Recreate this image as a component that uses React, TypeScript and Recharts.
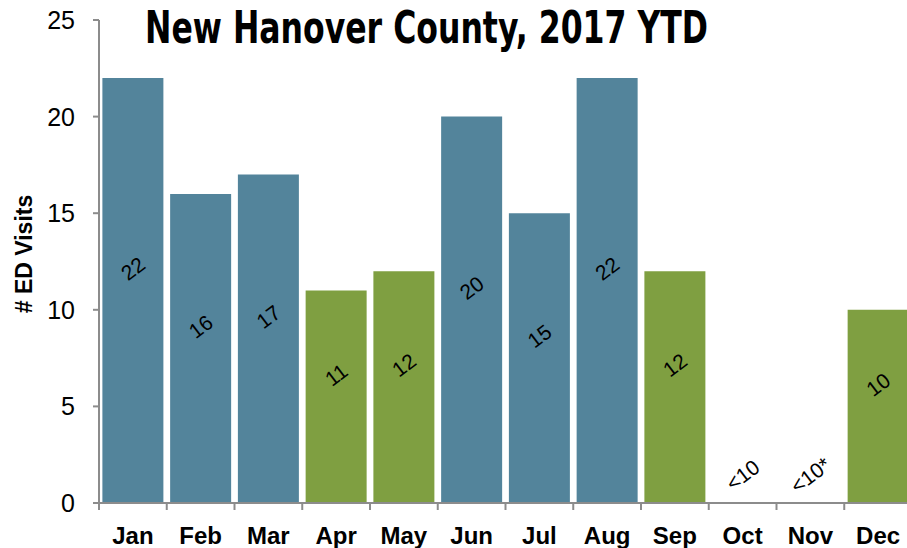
import React from 'react';
import { BarChart, Bar, XAxis, YAxis, Cell, LabelList } from 'recharts';

const months = ['Jan', 'Feb', 'Mar', 'Apr', 'May', 'Jun', 'Jul', 'Aug', 'Sep', 'Oct', 'Nov', 'Dec'];
const visits = [22, 16, 17, 11, 12, 20, 15, 22, 12, 0, 0, 10];
const valueLabels = ['22', '16', '17', '11', '12', '20', '15', '22', '12', '<10', '<10*', '10'];
const groups = ['blue', 'blue', 'blue', 'green', 'green', 'blue', 'blue', 'blue', 'green', 'green', 'green', 'green'];
const yTicks = [0, 5, 10, 15, 20, 25];

const BLUE = '#53849B';
const GREEN = '#7F9F41';
const AXIS = '#8c8c8c';
const FONT = "'Liberation Sans', Arial, sans-serif";

const data = months.map((m, i) => ({ month: m, visits: visits[i], label: valueLabels[i], group: groups[i] }));

const CHART_W = 915;
const CHART_H = 548;
const Y_AXIS_W = 99;
const RIGHT = 3;
const bandWidth = (CHART_W - Y_AXIS_W - RIGHT) / months.length;

const MonthTick = (props: any) => {
  const { x, y, payload } = props;
  const left = x - bandWidth / 2;
  return (
    <g>
      <line x1={left} y1={y - 8} x2={left} y2={y - 1} stroke={AXIS} strokeWidth={2} />
      <text x={x} y={y + 33} textAnchor="middle" fontFamily={FONT} fontWeight="bold" fontSize={24} fill="#000">
        {payload.value}
      </text>
    </g>
  );
};

const ValueTick = (props: any) => {
  const { y, payload } = props;
  return (
    <text x={75} y={y} textAnchor="end" dominantBaseline="central" fontFamily={FONT} fontSize={25} fill="#000">
      {payload.value}
    </text>
  );
};

const RotatedLabel = (props: any) => {
  const { x, y, width, height, value } = props;
  const cx = x + width / 2;
  const cy = height > 2 ? y + height / 2 - 22 : y + height - 28;
  return (
    <text
      x={cx}
      y={cy}
      transform={`rotate(-37 ${cx} ${cy})`}
      textAnchor="middle"
      dominantBaseline="central"
      fontFamily={FONT}
      fontSize={21}
      fill="#000"
    >
      {value}
    </text>
  );
};

const YTitle = () => (
  <text
    x={24}
    y={254}
    transform="rotate(-90 24 254)"
    textAnchor="middle"
    dominantBaseline="central"
    fontFamily={FONT}
    fontWeight="bold"
    fontSize={23}
    fill="#000"
  >
    # ED Visits
  </text>
);

export default function App() {
  return (
    <div style={{ position: 'absolute', left: 0, top: 0, width: 907, height: 548, overflow: 'hidden', background: '#fff' }}>
      <BarChart
        width={CHART_W}
        height={CHART_H}
        data={data}
        margin={{ top: 20, right: RIGHT, left: 0, bottom: 0 }}
        barCategoryGap="5%"
      >
        <XAxis
          dataKey="month"
          height={45}
          axisLine={{ stroke: AXIS, strokeWidth: 2 }}
          tickLine={false}
          interval={0}
          tick={<MonthTick />}
        />
        <YAxis
          width={Y_AXIS_W}
          domain={[0, 25]}
          ticks={yTicks}
          axisLine={{ stroke: AXIS, strokeWidth: 2 }}
          tickLine={{ stroke: AXIS, strokeWidth: 2 }}
          tickSize={6}
          tick={<ValueTick />}
          label={<YTitle />}
        />
        <Bar dataKey="visits" isAnimationActive={false} minPointSize={1}>
          {data.map((d, i) => (
            <Cell key={i} fill={d.visits > 0 ? (d.group === 'blue' ? BLUE : GREEN) : 'transparent'} />
          ))}
          <LabelList dataKey="label" content={<RotatedLabel />} />
        </Bar>
      </BarChart>
      <svg width={907} height={60} style={{ position: 'absolute', left: 0, top: 0, pointerEvents: 'none' }}>
        <text
          x={145}
          y={43}
          textLength={563}
          lengthAdjust="spacingAndGlyphs"
          fontFamily="'Liberation Sans Narrow', 'DejaVu Sans Condensed', sans-serif"
          fontWeight="bold"
          fontSize={44}
          fill="#000"
        >
          New Hanover County, 2017 YTD
        </text>
      </svg>
    </div>
  );
}
